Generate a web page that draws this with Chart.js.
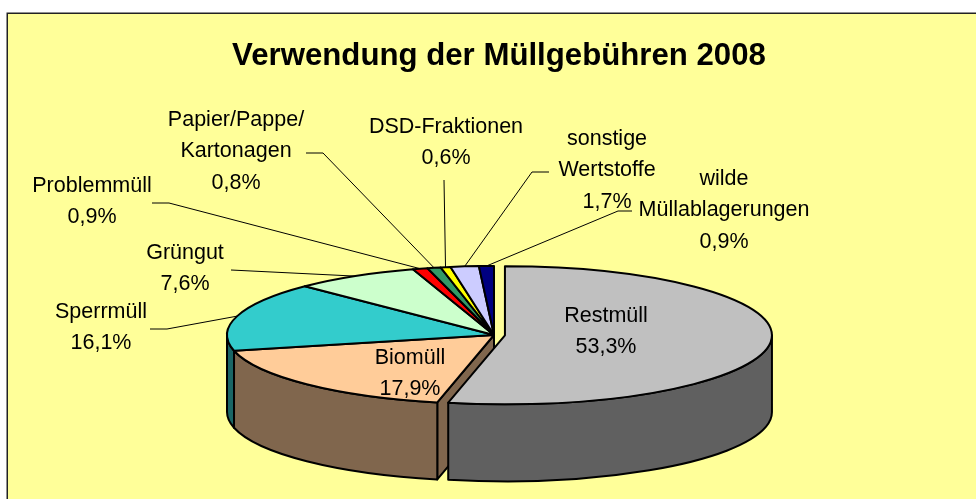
<!DOCTYPE html>
<html lang="de">
<head>
<meta charset="utf-8">
<title>Verwendung der Müllgebühren 2008</title>
<script src="https://cdn.jsdelivr.net/npm/chart.js@4/dist/chart.umd.min.js"></script>
<style>
html,body{margin:0;padding:0;background:#fff;overflow:hidden}
canvas{display:block}
</style>
</head>
<body>
<canvas id="c" width="976" height="499"></canvas>
<script>
const chartTitle = 'Verwendung der Müllgebühren 2008';
const categories = ['Restmüll','Biomüll','Sperrmüll','Grüngut','Problemmüll','Papier/Pappe/Kartonagen','DSD-Fraktionen','sonstige Wertstoffe','wilde Müllablagerungen'];
const shares = [53.3,17.9,16.1,7.6,0.9,0.8,0.6,1.7,0.9];

const sliceColors = ['#C0C0C0','#FFCC99','#33CCCC','#CCFFCC','#FF0000','#339966','#FFFF00','#CCCCFF','#000080'];
const sliceExplode = [11,0,0,0,0,0,0,0,0];
const labelLines = [['Restmüll'],['Biomüll'],['Sperrmüll'],['Grüngut'],['Problemmüll'],['Papier/Pappe/','Kartonagen'],['DSD-Fraktionen'],['sonstige','Wertstoffe'],['wilde','Müllablagerungen']];
const labelCenters = [[606,316],[410,358],[101,312],[185,253],[92,186],[236,120],[446,127],[607,139],[724,179]];
// leader start: polyline points running from the label toward the slice
const leaders = [null,null,[[150,329],[167,329]],[[231,270]],[[152,203],[169,203]],[[306,153],[323,153]],[[444,180]],[[549,172],[532,172]],[[632,211],[618,211]]];
const PIE = {cx:494, cy:335, rx:267, ry:69, depth:77};
const LINE_H = 31.5;
const FONT = '"Liberation Sans", Arial, sans-serif';

function darken(hex){
  const n = parseInt(hex.slice(1),16);
  const f = v => Math.round(v*0.5);
  return `rgb(${f(n>>16&255)},${f(n>>8&255)},${f(n&255)})`;
}

const pie3d = {
  id:'pie3d',
  beforeDraw(chart){
    const c = chart.ctx;
    c.save();
    c.fillStyle = '#fff';
    c.fillRect(0,0,chart.width,chart.height);
    c.fillStyle = '#FFFF99';
    c.fillRect(7,13,chart.width,chart.height);
    c.strokeStyle = '#222';
    c.lineWidth = 1.5;
    c.strokeRect(7.25,13.25,chart.width+20,chart.height+20);
    c.restore();
  },
  beforeDatasetDraw(chart,args){
    const c = chart.ctx;
    const arcs = chart.getDatasetMeta(args.index).data;
    const items = arcs.map((el,i)=>{
      const mid = (el.startAngle+el.endAngle)/2;
      const off = sliceExplode[i];
      return {a0:el.startAngle,a1:el.endAngle,mid,i,off,
        x:PIE.cx+Math.cos(mid)*off,y:PIE.cy+Math.sin(mid)*off*PIE.ry/PIE.rx};
    }).sort((p,q)=>p.off-q.off);
    const order = [...new Set(items.map(s=>s.off))];
    c.save();
    c.lineJoin='round';
    c.lineWidth=2;
    c.strokeStyle='#000';
    const pt=(s,a,dy=0)=>[s.x+PIE.rx*Math.cos(a),s.y+PIE.ry*Math.sin(a)+dy];
    order.forEach(off=>{
      const group = items.filter(s=>s.off===off);
      group.forEach(s=>{
        // cut face that turns toward the viewer, only where the neighbour slice is pulled away
        const prevOff = sliceExplode[(s.i+sliceExplode.length-1)%sliceExplode.length];
        if(s.a0>Math.PI/2 && s.a0<Math.PI && prevOff!==s.off){
          const p=pt(s,s.a0);
          c.beginPath();
          c.moveTo(s.x,s.y);c.lineTo(p[0],p[1]);c.lineTo(p[0],p[1]+PIE.depth);c.lineTo(s.x,s.y+PIE.depth);c.closePath();
          c.fillStyle=darken(sliceColors[s.i]);c.fill();c.stroke();
        }
      });
      group.forEach(s=>{
        // outer wall on the front half
        const f0=Math.max(s.a0,0),f1=Math.min(s.a1,Math.PI);
        if(f1>f0){
          c.beginPath();
          c.ellipse(s.x,s.y,PIE.rx,PIE.ry,0,f0,f1);
          c.ellipse(s.x,s.y+PIE.depth,PIE.rx,PIE.ry,0,f1,f0,true);
          c.closePath();
          c.fillStyle=darken(sliceColors[s.i]);c.fill();c.stroke();
        }
      });
      group.forEach(s=>{
        c.beginPath();
        c.moveTo(s.x,s.y);
        c.ellipse(s.x,s.y,PIE.rx,PIE.ry,0,s.a0,s.a1);
        c.closePath();
        c.fillStyle=sliceColors[s.i];c.fill();c.stroke();
      });
    });
    c.restore();
    return false;
  },
  afterDatasetsDraw(chart){
    const c = chart.ctx;
    const arcs = chart.getDatasetMeta(0).data;
    c.save();
    c.strokeStyle='#000';
    c.lineWidth=1;
    arcs.forEach((el,i)=>{
      if(!leaders[i]) return;
      const mid=(el.startAngle+el.endAngle)/2;
      c.beginPath();
      leaders[i].forEach((p,k)=> k?c.lineTo(p[0],p[1]):c.moveTo(p[0],p[1]));
      c.lineTo(PIE.cx+PIE.rx*Math.cos(mid),PIE.cy+PIE.ry*Math.sin(mid));
      c.stroke();
    });
    c.fillStyle='#000';
    c.font='21.5px '+FONT;
    c.textAlign='center';
    c.textBaseline='middle';
    categories.forEach((name,i)=>{
      const lines=[...labelLines[i],shares[i].toFixed(1).replace('.',',')+'%'];
      lines.forEach((t,k)=>c.fillText(t,labelCenters[i][0],labelCenters[i][1]+k*LINE_H));
    });
    c.restore();
  }
};

new Chart(document.getElementById('c'),{
  type:'pie',
  data:{labels:categories,datasets:[{data:shares,backgroundColor:sliceColors,borderColor:'#000',borderWidth:2}]},
  options:{
    responsive:false,
    animation:false,
    layout:{padding:{left:22,top:38}},
    plugins:{
      legend:{display:false},
      tooltip:{enabled:false},
      title:{display:true,text:chartTitle,color:'#000',font:{family:FONT,size:31.2,weight:'bold',lineHeight:1.2},padding:{top:0,bottom:4}}
    }
  },
  plugins:[pie3d]
});
</script>
</body>
</html>
